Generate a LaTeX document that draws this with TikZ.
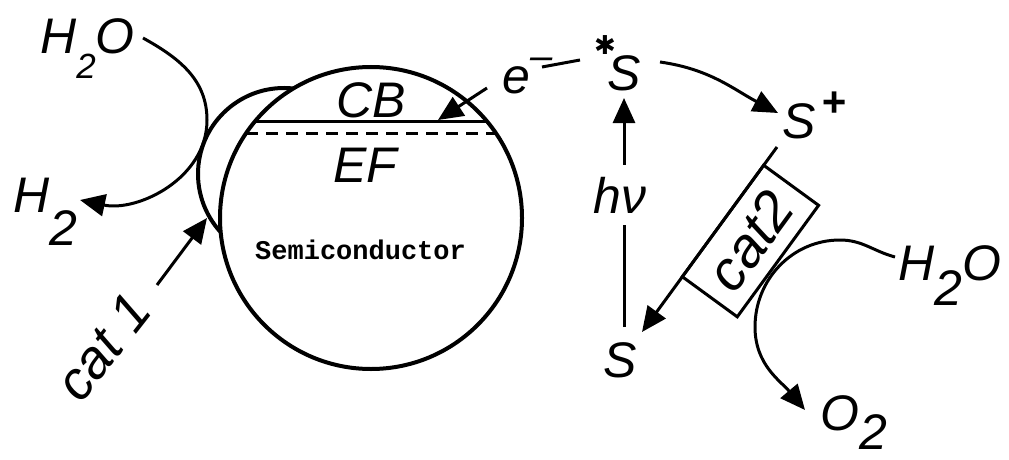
\documentclass[tikz,border=0pt]{standalone}
\usepackage{fontspec}
\setmainfont{Liberation Sans}
\newfontfamily\monofam{Liberation Mono}
\newfontfamily\symfam{DejaVu Sans}
\usetikzlibrary{arrows.meta}
\begin{document}
\begin{tikzpicture}[x=1pt,y=1pt,
  lab/.style={font=\fontsize{50}{60}\selectfont\itshape, inner sep=0pt},
  conn/.style={line width=3pt},
  arr/.style={conn, -{Triangle[length=25pt,width=22pt]}},
  body/.style={line width=4pt}]
\useasboundingbox (0,0) rectangle (1009,459);

% semiconductor particle
\node[draw, circle, body, minimum size=302pt, inner sep=0pt] (semi) at (371,241) {};
\path (semi.center) ++(140.52:151) coordinate (cbL);
\path (semi.center) ++(39.48:151) coordinate (cbR);
\path (semi.center) ++(145.74:151) coordinate (efL);
\path (semi.center) ++(34.26:151) coordinate (efR);
\draw[conn] (cbL) -- (cbR);
\draw[conn, dash pattern=on 12pt off 8pt] (efL) -- (efR);
\node[lab, anchor=base] (cb) at (371,342) {CB};
\node[lab, anchor=base] (ef) at (365,277) {EF};
\node[font=\monofam\bfseries\fontsize{27}{30}\selectfont, inner sep=0pt, anchor=base west] (semitxt) at (255,200) {Semiconductor};

% cat 1 crescent
\draw[body] (284,285) ++(83.8:86) arc[start angle=83.8, end angle=222.6, radius=86];

% left water reduction
\node[lab, anchor=base west] (h2oL) at (40,406) {H\raisebox{-25pt}{\fontsize{35}{35}\selectfont 2}O};
\node[lab, anchor=base west] (h2) at (13,247) {H\raisebox{-33pt}{2}};
\coordinate (l1) at (143,421);
\coordinate (l2) at (207,339);
\coordinate (h2tip) at (80,259);
\draw[arr] (l1) to[out=-29,in=90] (l2) to[out=-90,in=-12] (h2tip);

\node[lab, rotate=52, font=\fontsize{54}{60}\selectfont\itshape] (cat1) at (103,112) {cat\hspace{0.3em}1};
\coordinate (c1a) at (157,174);
\coordinate (c1b) at (207,241);
\draw[arr] (c1a) -- (c1b);

% electron injection
\node[lab, anchor=base west] (em) at (502,366) {e\raisebox{24pt}{\fontsize{40}{40}\selectfont \char"2013}};
\node[lab, anchor=base west] (sx) at (607,369) {S};
\node[font=\symfam\fontsize{26}{26}\selectfont, inner sep=0pt] (ast) at (605,414) {✱};
\coordinate (e1) at (580,399);
\coordinate (e2) at (542,392);
\coordinate (e3) at (487,371);
\coordinate (e4) at (438,339);
\draw[conn] (e1) -- (e2);
\draw[arr] (e3) -- (e4);

% excitation
\node[lab, anchor=base west] (sb) at (603,82) {S};
\coordinate (hv1) at (624,132);
\coordinate (hv2) at (624,361);
\draw[arr] (hv1) -- (hv2);
\node[lab, fill=white, inner xsep=0pt, inner ysep=12pt] (hv) at (620,264) {hν};

% oxidation
\node[lab, anchor=base west] (sp) at (782,321) {S\hspace{6pt}\raisebox{22pt}{\fontsize{42}{42}\selectfont\bfseries +}};
\coordinate (o1) at (660,397);
\coordinate (o2) at (778,346);
\draw[arr] (o1) to[out=-8,in=152] (o2);

% regeneration via cat2
\coordinate (r1) at (777,312);
\coordinate (r2) at (642,127);
\draw[arr] (r1) -- (r2);
\node[draw, conn, rotate=53.88, anchor=north, outer sep=0pt, inner sep=0pt,
      minimum width=138pt, minimum height=68pt,
      font=\fontsize{56}{60}\selectfont\itshape] (cat2) at (723,238) {cat2};

% right water oxidation
\node[lab, anchor=base west] (h2oR) at (898,179) {H\raisebox{-25pt}{2}O};
\node[lab, anchor=base west] (o2n) at (820,29) {O\raisebox{-19pt}{2}};
\coordinate (w1) at (895,202);
\coordinate (w2) at (840,219);
\coordinate (w3) at (755,132);
\coordinate (w4) at (805,49);
\draw[arr] (w1) to[out=165,in=0] (w2) to[out=180,in=90] (w3) to[out=-90,in=130] (w4);
\end{tikzpicture}
\end{document}
